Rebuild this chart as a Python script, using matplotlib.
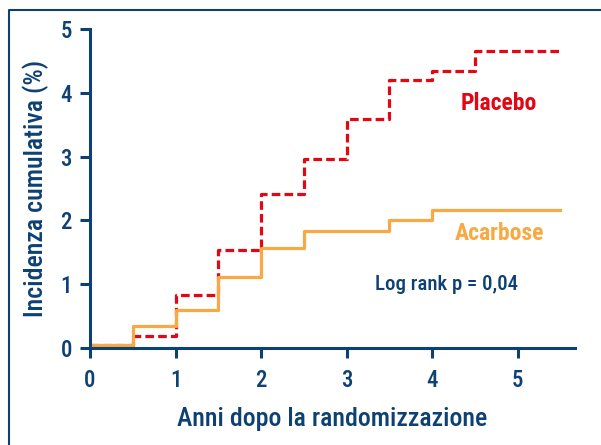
import matplotlib
matplotlib.use("Agg")
import matplotlib.pyplot as plt
from matplotlib.lines import Line2D

# Step data (years, cumulative incidence %)
anni = [0, 0.5, 1, 1.5, 2, 2.5, 3, 3.5, 4, 4.5, 5.5]
placebo = [0.05, 0.19, 0.83, 1.53, 2.41, 2.97, 3.59, 4.2, 4.34, 4.66, 4.66]
acarbose = [0.05, 0.34, 0.59, 1.11, 1.56, 1.84, 1.84, 2.0, 2.16, 2.16, 2.16]
x_ticks = [0, 1, 2, 3, 4, 5]
y_ticks = [0, 1, 2, 3, 4, 5]

blu = "#0d4073"
rosso = "#e30613"
arancio = "#f8a944"

plt.rcParams["font.family"] = ["Roboto Condensed", "Liberation Sans Narrow",
                               "Roboto", "DejaVu Sans"]
plt.rcParams["font.weight"] = "medium"
plt.rcParams["axes.labelweight"] = "medium"

fig = plt.figure(figsize=(6.01, 4.45), dpi=100)
ax = fig.add_axes([90 / 601, (445 - 348) / 445, (575 - 90) / 601, (348 - 29) / 445])

ax.step(anni, placebo, where="post", color=rosso, lw=2.3, dashes=(2.7, 1.3))
ax.step(anni, acarbose, where="post", color=arancio, lw=2.3)

ax.set_xlim(0, 5.67)
ax.set_ylim(0, 5)
ax.set_xticks(x_ticks)
ax.set_yticks(y_ticks)

for s in ["top", "right"]:
    ax.spines[s].set_visible(False)
for s in ["left", "bottom"]:
    ax.spines[s].set_color(blu)
    ax.spines[s].set_linewidth(2.2)
ax.tick_params(colors=blu, width=2.2, length=7, labelsize=16.5)
ax.tick_params(axis="y", pad=6)
ax.tick_params(axis="x", pad=8)

ax.set_xlabel("Anni dopo la randomizzazione", color=blu, fontsize=18.6, labelpad=11)
ax.set_ylabel("Incidenza cumulativa (%)", color=blu, fontsize=18.6, labelpad=8)

ax.text(4.78, 3.84, "Placebo", color=rosso, fontsize=17, fontweight="bold",
        ha="center", va="center")
ax.text(4.79, 1.80, "Acarbose", color=arancio, fontsize=17, fontweight="bold",
        ha="center", va="center")
ax.text(4.17, 0.99, "Log rank p = 0,04", color=blu, fontsize=15,
        ha="center", va="center")

# frame around the figure (cut at right and bottom)
fig.add_artist(Line2D([9 / 601, 9 / 601, 1.0], [0.0, 1 - 10 / 445, 1 - 10 / 445],
                      transform=fig.transFigure, color=blu, lw=1.5))

fig.savefig("out.png", dpi=100)
